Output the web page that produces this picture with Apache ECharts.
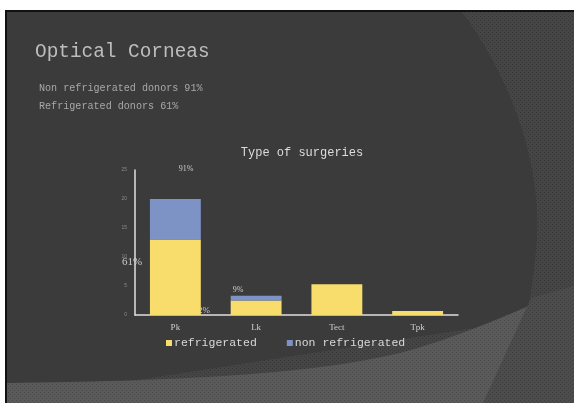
<!DOCTYPE html>
<html>
<head>
<meta charset="utf-8">
<script src="https://cdn.jsdelivr.net/npm/echarts@6/dist/echarts.min.js"></script>
<style>
html,body{margin:0;padding:0;background:#ffffff;}
#chart{width:574px;height:403px;}
</style>
</head>
<body>
<div id="chart"></div>
<script>
// ---- data ----
const categories = ['Pk', 'Lk', 'Tect', 'Tpk'];
const refrigerated = [13, 2.5, 5.3, 0.7];
const nonRefrigerated = [7, 0.8, 0, 0];
const seriesNames = ['refrigerated', 'non refrigerated'];
const yTicks = { min: 0, max: 25, interval: 5 };
const slideTitle = 'Optical Corneas';
const slideLines = ['Non refrigerated donors 91%', 'Refrigerated donors 61%'];
const chartTitle = 'Type of surgeries';
const pctLabels = ['91%', '61%', '2%', '9%'];

// decorative slide background helpers
function makePattern(base, dot) {
  const c = document.createElement('canvas');
  c.width = 4; c.height = 4;
  const g = c.getContext('2d');
  g.fillStyle = base; g.fillRect(0, 0, 4, 4);
  g.fillStyle = dot; g.fillRect(0, 0, 1, 1); g.fillRect(2, 2, 1, 1);
  return { image: c, repeat: 'repeat' };
}
function bez(p0, p1, p2, p3, n) {
  const pts = [];
  for (let i = 0; i <= n; i++) {
    const t = i / n, u = 1 - t;
    pts.push([
      u*u*u*p0[0] + 3*u*u*t*p1[0] + 3*u*t*t*p2[0] + t*t*t*p3[0],
      u*u*u*p0[1] + 3*u*u*t*p1[1] + 3*u*t*t*p2[1] + t*t*t*p3[1]
    ]);
  }
  return pts;
}
const darkShape = [[7, 12]].concat(
  bez([462, 12], [505, 70], [545, 160], [536, 250], 30),
  bez([536, 250], [533, 280], [530, 300], [526, 320], 10),
  [[7, 400]]
);
const bandShape = bez([7, 383], [150, 381], [300, 377], [400, 353], 30).concat(
  bez([400, 353], [460, 337], [520, 310], [574, 286], 20),
  [[574, 403], [7, 403]]
);

const mono = 'Liberation Mono';
const chart = echarts.init(document.getElementById('chart'), null, { renderer: 'canvas' });

let bgPat, bandPat, cornerPat;
try {
  bgPat = makePattern('#454545', '#363636');
  bandPat = makePattern('#5a5a5a', '#4a4a4a');
  cornerPat = makePattern('#4c4c4c', '#3e3e3e');
} catch (e) {
  bgPat = '#434343'; bandPat = '#565656'; cornerPat = '#494949';
}

const option = {
  backgroundColor: 'transparent',
  animation: false,
  graphic: [
    { type: 'rect', z: -10, silent: true, shape: { x: 0, y: 0, width: 574, height: 403 }, style: { fill: bgPat } },
    { type: 'polygon', z: -9, silent: true, shape: { points: darkShape }, style: { fill: '#3b3b3b' } },
    { type: 'polygon', z: -8, silent: true, shape: { points: bandShape }, style: { fill: bandPat } },
    { type: 'polygon', z: -7, silent: true, shape: { points: [[531, 298], [574, 286], [574, 403], [483, 403]] }, style: { fill: cornerPat } },
    { type: 'rect', z: -6, silent: true, shape: { x: 0, y: 0, width: 574, height: 10 }, style: { fill: '#ffffff' } },
    { type: 'rect', z: -6, silent: true, shape: { x: 0, y: 0, width: 5, height: 403 }, style: { fill: '#ffffff' } },
    { type: 'rect', z: -5, silent: true, shape: { x: 5, y: 10, width: 569, height: 2 }, style: { fill: '#111111' } },
    { type: 'rect', z: -5, silent: true, shape: { x: 5, y: 10, width: 2, height: 393 }, style: { fill: '#111111' } },
    { type: 'text', x: 35, y: 52, style: { text: slideTitle, fill: '#bdbdbd', font: '19.4px "' + mono + '"', verticalAlign: 'middle' } },
    { type: 'text', x: 39, y: 88, style: { text: slideLines[0], fill: '#a8a8a8', font: '10.1px "' + mono + '"', verticalAlign: 'middle' } },
    { type: 'text', x: 39, y: 106, style: { text: slideLines[1], fill: '#a8a8a8', font: '10.1px "' + mono + '"', verticalAlign: 'middle' } },
    { type: 'text', x: 302, y: 153, style: { text: chartTitle, fill: '#dddddd', font: '12px "' + mono + '"', align: 'center', verticalAlign: 'middle' } },
    { type: 'text', x: 186, y: 169, style: { text: pctLabels[0], fill: '#cccccc', font: '8px "Liberation Serif"', align: 'center', verticalAlign: 'middle' } },
    { type: 'text', x: 132, y: 262, style: { text: pctLabels[1], fill: '#cccccc', font: '11px "Liberation Serif"', align: 'center', verticalAlign: 'middle' } },
    { type: 'text', x: 204, y: 311, style: { text: pctLabels[2], fill: '#cccccc', font: '9px "Liberation Serif"', align: 'center', verticalAlign: 'middle' } },
    { type: 'text', x: 238, y: 290, style: { text: pctLabels[3], fill: '#cccccc', font: '8px "Liberation Serif"', align: 'center', verticalAlign: 'middle' } }
  ],
  legend: {
    data: seriesNames,
    left: 166,
    top: 337,
    icon: 'rect',
    itemWidth: 6,
    itemHeight: 6,
    itemGap: 30,
    padding: 0,
    textStyle: { color: '#d8d8d8', fontSize: 11.5, fontFamily: mono, padding: [0, 0, 0, -3] }
  },
  grid: { left: 135, right: 116, top: 170, bottom: 88, containLabel: false },
  xAxis: {
    type: 'category',
    data: categories,
    axisLine: { show: true, lineStyle: { color: '#e0e0e0', width: 1.5 } },
    axisTick: { show: false },
    axisLabel: { color: '#cfcfcf', fontSize: 9, fontFamily: 'Liberation Serif', margin: 8 },
    splitLine: { show: false }
  },
  yAxis: {
    type: 'value',
    min: yTicks.min,
    max: yTicks.max,
    interval: yTicks.interval,
    axisLine: { show: true, lineStyle: { color: '#e0e0e0', width: 1.5 } },
    axisTick: { show: false },
    axisLabel: { color: '#8a8a8a', fontSize: 5, margin: 8 },
    splitLine: { show: false }
  },
  series: [
    { name: seriesNames[0], type: 'bar', stack: 'total', data: refrigerated, barWidth: '63%', itemStyle: { color: '#f8dd6c' } },
    { name: seriesNames[1], type: 'bar', stack: 'total', data: nonRefrigerated, barWidth: '63%', itemStyle: { color: '#7d93c6' } }
  ]
};
chart.setOption(option);
</script>
</body>
</html>
